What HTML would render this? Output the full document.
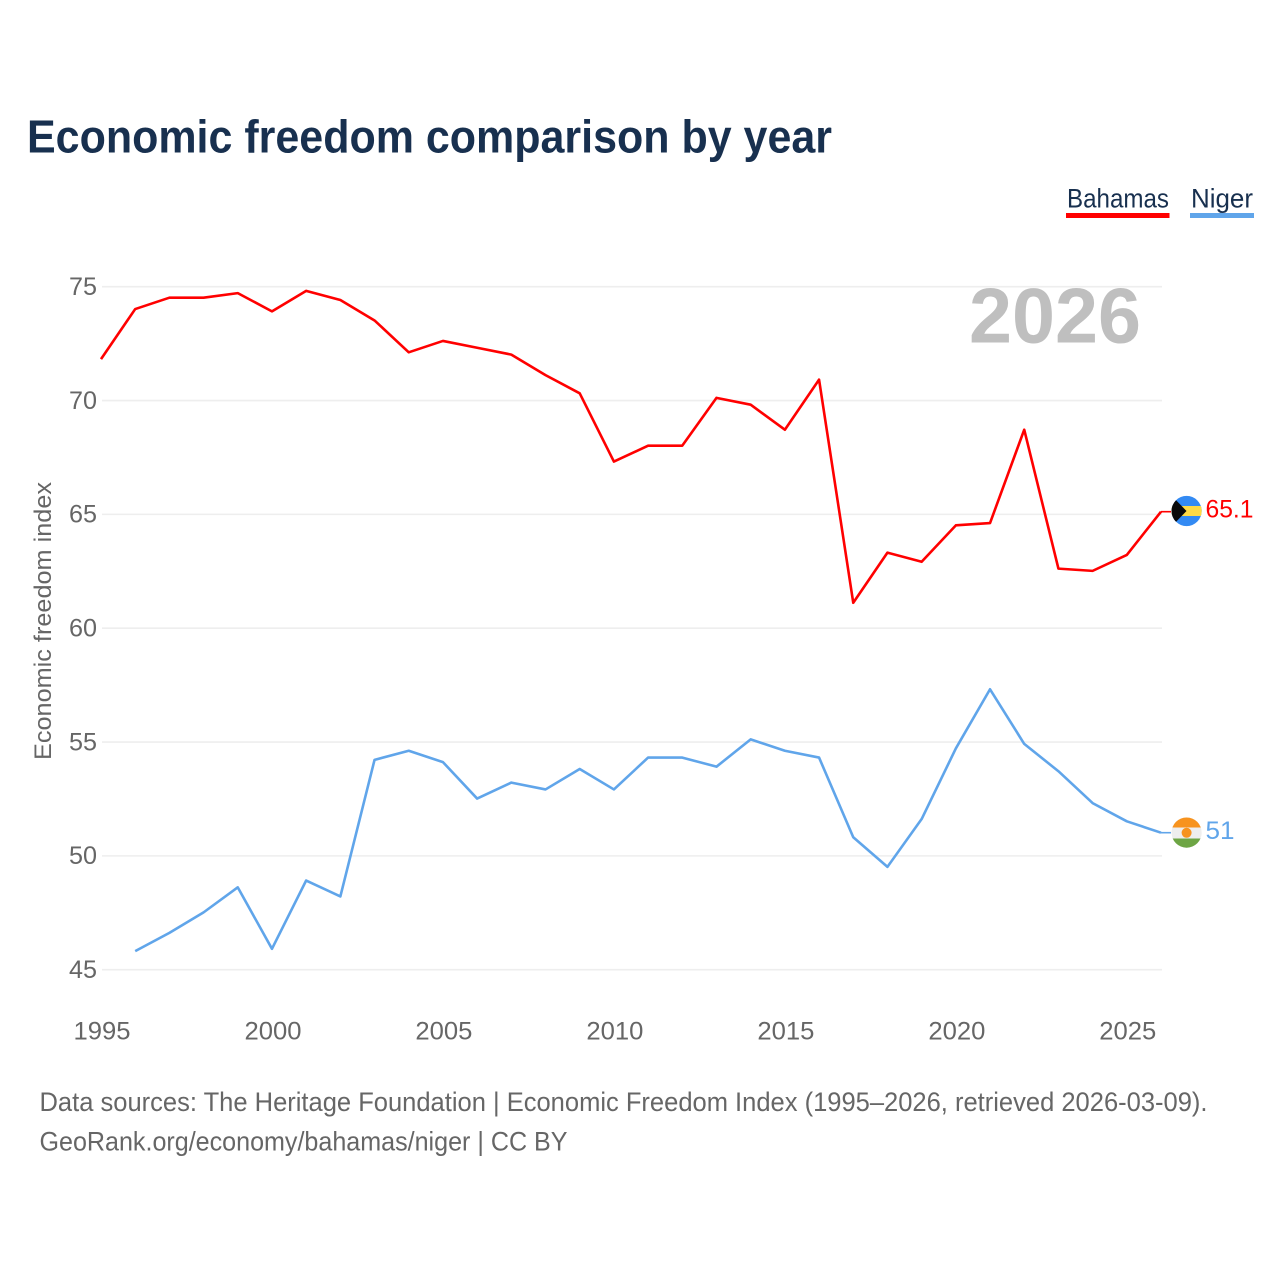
<!DOCTYPE html>
<html lang="en">
<head>
<meta charset="utf-8">
<title>Economic freedom comparison by year</title>
<style>
  html, body { margin: 0; padding: 0; background: #ffffff; }
  svg { display: block; font-family: "Liberation Sans", sans-serif; }
</style>
</head>
<body>
<svg id="chart" xmlns="http://www.w3.org/2000/svg" width="1280" height="1280" viewBox="0 0 1280 1280">
  <defs>
    <clipPath id="flag-clip-bahamas"><circle cx="1186.6" cy="511" r="15.1"></circle></clipPath>
    <clipPath id="flag-clip-niger"><circle cx="1186.6" cy="832.6" r="15.1"></circle></clipPath>
  </defs>
  <rect x="0" y="0" width="1280" height="1280" fill="#ffffff"></rect>
  <text x="27" y="152.3" font-size="46.5" font-weight="700" fill="#18304f" textLength="805" lengthAdjust="spacingAndGlyphs">Economic freedom comparison by year</text>

  <g>
    <g>
      <text x="1067" y="207.5" font-size="26.5" fill="#18304f" textLength="102" lengthAdjust="spacingAndGlyphs">Bahamas</text>
      <rect x="1066" y="213" width="103.5" height="5" fill="#ff0000"></rect>
    </g>
    <g>
      <text x="1191" y="207.5" font-size="26.5" fill="#18304f" textLength="62" lengthAdjust="spacingAndGlyphs">Niger</text>
      <rect x="1190" y="213" width="64" height="5" fill="#60a5ea"></rect>
    </g>
  </g>

  <g id="grid"></g>
  <g id="y-axis"></g>
  <g id="x-axis"></g>

  <text transform="translate(51,760) rotate(-90)" font-size="24.5" fill="#666666" textLength="278" lengthAdjust="spacingAndGlyphs">Economic freedom index</text>
  <text x="969" y="342.5" font-size="78" font-weight="700" fill="#bfbfbf" textLength="172" lengthAdjust="spacingAndGlyphs">2026</text>

  <g id="series" transform="translate(-1,-0.4)"></g>

  <g clip-path="url(#flag-clip-bahamas)">
    <rect x="1171" y="495" width="32" height="32" fill="#338af3"></rect>
    <rect x="1171" y="506" width="32" height="10" fill="#ffda44"></rect>
    <polygon points="1171,495 1186.5,511 1171,527" fill="#0a0a0a"></polygon>
  </g>
  <g clip-path="url(#flag-clip-niger)">
    <rect x="1171" y="817" width="32" height="32" fill="#eeeeee"></rect>
    <rect x="1171" y="817" width="32" height="10.5" fill="#f7931e"></rect>
    <rect x="1171" y="838.5" width="32" height="11" fill="#6da544"></rect>
    <circle cx="1186.6" cy="832.8" r="5" fill="#f7931e"></circle>
  </g>

  <text x="1205.5" y="517.3" font-size="25" fill="#ff0000" textLength="48" lengthAdjust="spacingAndGlyphs">65.1</text>
  <text x="1205.5" y="838.8" font-size="25" fill="#60a5ea" textLength="29" lengthAdjust="spacingAndGlyphs">51</text>

  <text x="39.5" y="1111" font-size="26.5" fill="#666666" textLength="1168" lengthAdjust="spacingAndGlyphs">Data sources: The Heritage Foundation | Economic Freedom Index (1995–2026, retrieved 2026-03-09).</text>
  <text x="39.5" y="1150.6" font-size="26.5" fill="#666666" textLength="528" lengthAdjust="spacingAndGlyphs">GeoRank.org/economy/bahamas/niger | CC BY</text>
</svg>
<script>
const years = [1995,1996,1997,1998,1999,2000,2001,2002,2003,2004,2005,2006,2007,2008,2009,2010,2011,2012,2013,2014,2015,2016,2017,2018,2019,2020,2021,2022,2023,2024,2025,2026];
const bahamasValues = [71.8,74.0,74.5,74.5,74.7,73.9,74.8,74.4,73.5,72.1,72.6,72.3,72.0,71.1,70.3,67.3,68.0,68.0,70.1,69.8,68.7,70.9,61.1,63.3,62.9,64.5,64.6,68.7,62.6,62.5,63.2,65.1];
const nigerValues = [null,45.8,46.6,47.5,48.6,45.9,48.9,48.2,54.2,54.6,54.1,52.5,53.2,52.9,53.8,52.9,54.3,54.3,53.9,55.1,54.6,54.3,50.8,49.5,51.6,54.7,57.3,54.9,53.7,52.3,51.5,51.0];
const yTicks = [45,50,55,60,65,70,75];
const xTicks = [1995,2000,2005,2010,2015,2020,2025];

const SVG_NS = 'http://www.w3.org/2000/svg';
const plotLeft = 102, plotRight = 1162, plotTop = 286.7, plotBottom = 969.7;
const xDomain = [1995, 2026], yDomain = [45, 75];

function xScale(v) {
  return plotLeft + (v - xDomain[0]) / (xDomain[1] - xDomain[0]) * (plotRight - plotLeft);
}
function yScale(v) {
  return plotBottom - (v - yDomain[0]) / (yDomain[1] - yDomain[0]) * (plotBottom - plotTop);
}
function make(tag, attrs, parent) {
  const el = document.createElementNS(SVG_NS, tag);
  for (const k in attrs) el.setAttribute(k, attrs[k]);
  parent.appendChild(el);
  return el;
}

const gridGroup = document.getElementById('grid');
const yAxisGroup = document.getElementById('y-axis');
const xAxisGroup = document.getElementById('x-axis');
const seriesGroup = document.getElementById('series');

yTicks.forEach(function (t) {
  const line = make('line', { x1: plotLeft, x2: plotRight, y1: yScale(t), y2: yScale(t), stroke: '#eeeeee', 'stroke-width': 1.6 }, gridGroup);
  
  
  const label = make('text', { x: 97, y: yScale(t) + 8.3, 'text-anchor': 'end', 'font-size': 25, fill: '#666666', textLength: 28, lengthAdjust: 'spacingAndGlyphs' }, yAxisGroup);
  
  
  label.textContent = String(t);
});

xTicks.forEach(function (t) {
  const label = make('text', { x: xScale(t), y: 1039.5, 'text-anchor': 'middle', 'font-size': 25, fill: '#666666', textLength: 57, lengthAdjust: 'spacingAndGlyphs' }, xAxisGroup);
  
  
  label.textContent = String(t);
});

function seriesPath(values) {
  let d = '';
  values.forEach(function (v, i) {
    if (v === null) return;
    d += (d ? 'L' : 'M') + xScale(years[i]).toFixed(2) + ' ' + yScale(v).toFixed(2);
  });
  return d;
}

const bahamasLine = make('path', { d: seriesPath(bahamasValues), fill: 'none', stroke: '#ff0000', 'stroke-width': 2.6, 'stroke-linejoin': 'round' }, seriesGroup);



const nigerLine = make('path', { d: seriesPath(nigerValues), fill: 'none', stroke: '#60a5ea', 'stroke-width': 2.6, 'stroke-linejoin': 'round' }, seriesGroup);



const bahamasLast = bahamasValues[bahamasValues.length - 1];
const bahamasConnector = make('line', { x1: plotRight, x2: plotRight + 10, y1: yScale(bahamasLast), y2: yScale(bahamasLast), stroke: '#ff0000', 'stroke-width': 1.6 }, seriesGroup);



const nigerLast = nigerValues[nigerValues.length - 1];
const nigerConnector = make('line', { x1: plotRight, x2: plotRight + 10, y1: yScale(nigerLast), y2: yScale(nigerLast), stroke: '#60a5ea', 'stroke-width': 1.6 }, seriesGroup);


</script>
</body>
</html>
